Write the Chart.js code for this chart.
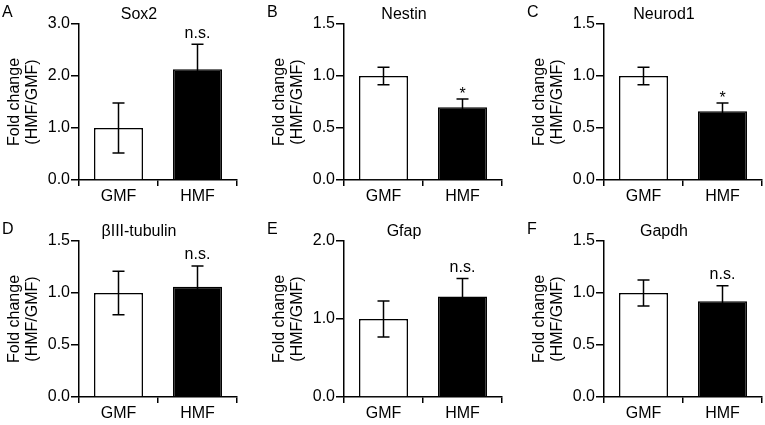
<!DOCTYPE html>
<html>
<head>
<meta charset="utf-8">
<script src="https://cdn.jsdelivr.net/npm/chart.js@4.4.0/dist/chart.umd.min.js"></script>
<style>
  body { margin: 0; background: #fff; }
  #wrap { position: relative; width: 765px; height: 425px; overflow: hidden; }
  canvas { position: absolute; }
</style>
</head>
<body>
<div id="wrap"></div>
<script>
// data
var letters = ['A', 'B', 'C', 'D', 'E', 'F'];
var genes = ['Sox2', 'Nestin', 'Neurod1', 'βIII-tubulin', 'Gfap', 'Gapdh'];
var categories = ['GMF', 'HMF'];
var gmfMean = [1.0, 1.0, 1.0, 1.0, 1.0, 1.0];
var hmfMean = [2.13, 0.70, 0.66, 1.06, 1.29, 0.92];
var gmfErr = [0.48, 0.085, 0.085, 0.21, 0.23, 0.125];
var hmfErr = [0.48, 0.08, 0.08, 0.20, 0.23, 0.15];
var yMax = [3.0, 1.5, 1.5, 1.5, 2.0, 1.5];
var yStep = [1.0, 0.5, 0.5, 0.5, 1.0, 0.5];
var marks = ['n.s.', '*', '*', 'n.s.', 'n.s.', 'n.s.'];

var FONT = 'Liberation Sans';
var colLeft = [0, 265, 525];
var rowTop = [0, 217];

// error bars + significance marks + panel letter/title
var extras = {
  id: 'extras',
  afterDatasetsDraw: function (chart) {
    var i = chart.options.plugins.extras.panel;
    var ctx = chart.ctx;
    var y = chart.scales.y;
    var meta = chart.getDatasetMeta(0);
    var means = [gmfMean[i], hmfMean[i]];
    var errs = [gmfErr[i], hmfErr[i]];
    ctx.save();
    ctx.strokeStyle = '#000';
    ctx.lineWidth = 1.5;
    for (var k = 0; k < 2; k++) {
      var x = meta.data[k].x;
      var top = y.getPixelForValue(means[k] + errs[k]);
      var bot = y.getPixelForValue(means[k] - errs[k]);
      ctx.beginPath();
      ctx.moveTo(x, top); ctx.lineTo(x, bot);
      ctx.moveTo(x - 6, top); ctx.lineTo(x + 6, top);
      ctx.moveTo(x - 6, bot); ctx.lineTo(x + 6, bot);
      ctx.stroke();
    }
    // mark above HMF
    var hx = meta.data[1].x;
    var htop = y.getPixelForValue(hmfMean[i] + hmfErr[i]);
    ctx.fillStyle = '#000';
    ctx.textAlign = 'center';
    ctx.textBaseline = 'bottom';
    ctx.font = '16px ' + FONT;
    ctx.fillText(marks[i], hx, marks[i] === '*' ? htop + 4 : htop - 3);
    // letter and title
    ctx.textBaseline = 'middle';
    ctx.textAlign = 'left';
    ctx.fillText(letters[i], 2, 13);
    ctx.textAlign = 'center';
    var ca = chart.chartArea;
    ctx.fillText(genes[i], (ca.left + ca.right) / 2 - 19, 15);
    ctx.restore();
  }
};

letters.forEach(function (l, i) {
  var c = document.createElement('canvas');
  c.width = 240; c.height = 208;
  c.style.left = colLeft[i % 3] + 'px';
  c.style.top = rowTop[Math.floor(i / 3)] + 'px';
  document.getElementById('wrap').appendChild(c);

  new Chart(c.getContext('2d'), {
    type: 'bar',
    data: {
      labels: categories,
      datasets: [{
        data: [gmfMean[i], hmfMean[i]],
        backgroundColor: ['#ffffff', '#000000'],
        borderColor: '#000000',
        borderWidth: 1.5,
        categoryPercentage: 1,
        barPercentage: 0.62
      }]
    },
    options: {
      responsive: false,
      animation: false,
      layout: { padding: { top: 24, right: 3, left: 0, bottom: 0 } },
      plugins: {
        legend: { display: false },
        tooltip: { enabled: false },
        extras: { panel: i }
      },
      scales: {
        x: {
          afterFit: function (s) { s.height = 28; },
          grid: { drawOnChartArea: false, drawTicks: true, tickLength: 6, color: '#000', lineWidth: 1.5, offset: true },
          border: { color: '#000', width: 1.5 },
          ticks: { color: '#000', padding: 1, font: { family: FONT, size: 16 } }
        },
        y: {
          min: 0,
          max: yMax[i],
          afterFit: function (s) { s.width = 79; },
          grid: { drawOnChartArea: false, drawTicks: true, tickLength: 8, color: '#000', lineWidth: 1.5 },
          border: { color: '#000', width: 1.5 },
          ticks: {
            stepSize: yStep[i],
            color: '#000',
            padding: 1,
            font: { family: FONT, size: 16 },
            callback: function (v) { return v.toFixed(1); }
          },
          title: {
            display: true,
            text: ['Fold change', '(HMF/GMF)'],
            color: '#000',
            padding: { top: 6, bottom: 0 },
            font: { family: FONT, size: 16, lineHeight: 1.1 }
          }
        }
      }
    },
    plugins: [extras]
  });
});
</script>
</body>
</html>
